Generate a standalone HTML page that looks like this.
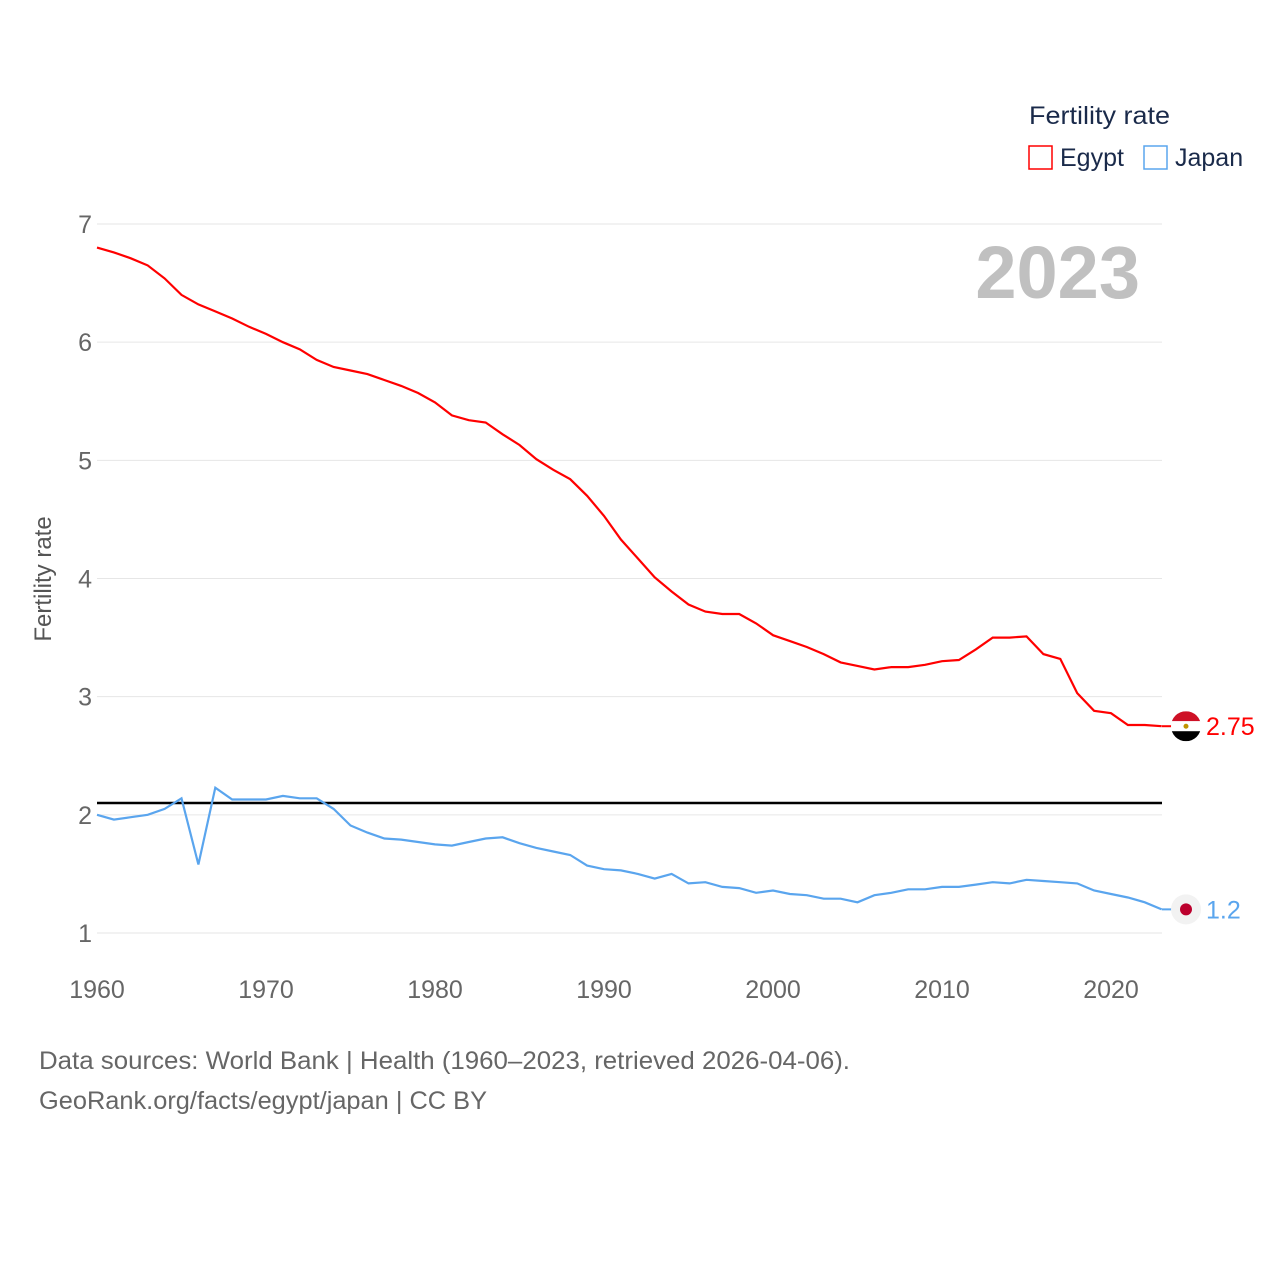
<!DOCTYPE html>
<html><head><meta charset="utf-8"><style>
html,body{margin:0;padding:0;background:#fff;}
svg text{font-family:"Liberation Sans",sans-serif;}
</style></head><body>
<svg id="chart" width="1280" height="1280" viewBox="0 0 1280 1280" xmlns="http://www.w3.org/2000/svg">
<g id="grid"></g>
<g id="yticks"></g>
<g id="xticks"></g>
<text x="1140" y="298" text-anchor="end" font-size="74" font-weight="bold" fill="#c0c0c0">2023</text>
<text transform="translate(51,579) rotate(-90)" text-anchor="middle" font-size="24" fill="#555">Fertility rate</text>
<g id="series"></g>
<text x="1029" y="124" font-size="25" fill="#1a2a4a" textLength="141" lengthAdjust="spacingAndGlyphs">Fertility rate</text>
<g><rect x="1029" y="146" width="23" height="23" fill="none" stroke="#f00" stroke-width="1.5"/><text x="1060" y="166" font-size="25" fill="#1a2a4a">Egypt</text></g>
<g><rect x="1144" y="146" width="23" height="23" fill="none" stroke="#5aa5ee" stroke-width="1.5"/><text x="1175" y="166" font-size="25" fill="#1a2a4a">Japan</text></g>
<text x="39" y="1069" font-size="25" fill="#666" textLength="811" lengthAdjust="spacingAndGlyphs">Data sources: World Bank | Health (1960–2023, retrieved 2026-04-06).</text>
<text x="39" y="1109" font-size="25" fill="#666" textLength="448" lengthAdjust="spacingAndGlyphs">GeoRank.org/facts/egypt/japan | CC BY</text>
</svg>
<script>
const years=[];for(let y=1960;y<=2023;y++)years.push(y);
const egypt=[6.80,6.76,6.71,6.65,6.54,6.40,6.32,6.26,6.20,6.13,6.07,6.00,5.94,5.85,5.79,5.76,5.73,5.68,5.63,5.57,5.49,5.38,5.34,5.32,5.22,5.13,5.01,4.92,4.84,4.70,4.53,4.33,4.17,4.01,3.89,3.78,3.72,3.70,3.70,3.62,3.52,3.47,3.42,3.36,3.29,3.26,3.23,3.25,3.25,3.27,3.30,3.31,3.40,3.50,3.50,3.51,3.36,3.32,3.03,2.88,2.86,2.76,2.76,2.75];
const japan=[2.00,1.96,1.98,2.00,2.05,2.14,1.58,2.23,2.13,2.13,2.13,2.16,2.14,2.14,2.05,1.91,1.85,1.80,1.79,1.77,1.75,1.74,1.77,1.80,1.81,1.76,1.72,1.69,1.66,1.57,1.54,1.53,1.50,1.46,1.50,1.42,1.43,1.39,1.38,1.34,1.36,1.33,1.32,1.29,1.29,1.26,1.32,1.34,1.37,1.37,1.39,1.39,1.41,1.43,1.42,1.45,1.44,1.43,1.42,1.36,1.33,1.30,1.26,1.20];
const yTicks=[1,2,3,4,5,6,7];
const xTicks=[1960,1970,1980,1990,2000,2010,2020];
const replacement=2.1;
const NS="http://www.w3.org/2000/svg";
const X=v=>97+(v-1960)*(1111-97)/60;
const Y=v=>933-(v-1)*(933-224)/6;
function mk(t,a,p){const e=document.createElementNS(NS,t);for(const k in a)e.setAttribute(k,a[k]);p.appendChild(e);return e;}
const grid=document.getElementById('grid'),yt=document.getElementById('yticks'),xt=document.getElementById('xticks'),ser=document.getElementById('series');
yTicks.forEach(v=>{
 const l=mk('line',{x1:97,x2:1162,y1:Y(v),y2:Y(v),stroke:'#e6e6e6','stroke-width':1},grid);
 
 
 const t=mk('text',{x:92,y:Y(v)+9,'text-anchor':'end','font-size':25,fill:'#666'},yt);t.textContent=v;
 
 
});
xTicks.forEach(v=>{
 const t=mk('text',{x:X(v),y:998,'text-anchor':'middle','font-size':25,fill:'#666'},xt);t.textContent=v;
 
 
});
const rl=mk('line',{x1:97,x2:1162,y1:Y(replacement),y2:Y(replacement),stroke:'#000','stroke-width':2.5},ser);


function line(d,c,name){
 const p=mk('path',{d:d.map((v,i)=>(i?'L':'M')+X(years[i]).toFixed(1)+','+Y(v).toFixed(1)).join(''),fill:'none',stroke:c,'stroke-width':2.2},ser);
 
 
}
line(egypt,'#f00','egypt-line');line(japan,'#5aa5ee','japan-line');
const ey=Y(egypt[egypt.length-1]),jy=Y(japan[japan.length-1]);
mk('line',{x1:1162,x2:1172,y1:ey,y2:ey,stroke:'#f00','stroke-width':2},ser);
mk('line',{x1:1162,x2:1172,y1:jy,y2:jy,stroke:'#5aa5ee','stroke-width':2},ser);
const ef=mk('g',{},ser);


mk('clipPath',{id:'ec'},ef).appendChild(document.createElementNS(NS,'circle'));
const c=ef.querySelector('circle');c.setAttribute('cx',1186);c.setAttribute('cy',ey);c.setAttribute('r',15);
mk('rect',{x:1171,y:ey-15,width:30,height:10,fill:'#ce1126','clip-path':'url(#ec)'},ef);
mk('rect',{x:1171,y:ey-5,width:30,height:10,fill:'#fff','clip-path':'url(#ec)'},ef);
mk('rect',{x:1171,y:ey+5,width:30,height:10,fill:'#000','clip-path':'url(#ec)'},ef);
mk('circle',{cx:1186,cy:ey,r:2.5,fill:'#c09300'},ef);
const jf=mk('g',{},ser);


mk('circle',{cx:1186,cy:jy,r:15,fill:'#f2f2f2'},jf);
mk('circle',{cx:1186,cy:jy,r:6,fill:'#bc002d'},jf);
const el=mk('text',{x:1206,y:ey+9,'font-size':25,fill:'#f00'},ser);el.textContent=egypt[egypt.length-1];


const jl=mk('text',{x:1206,y:jy+9,'font-size':25,fill:'#5aa5ee'},ser);jl.textContent=japan[japan.length-1];


</script>
</body></html>
